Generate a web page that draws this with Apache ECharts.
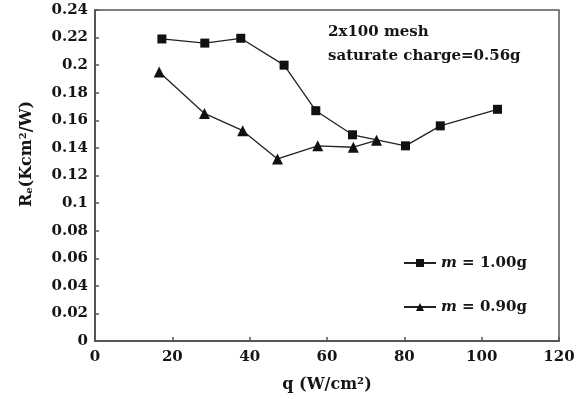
<!DOCTYPE html>
<html><head><meta charset="utf-8">
<script src="https://cdn.jsdelivr.net/npm/echarts@6/dist/echarts.min.js"></script>
<style>html,body{margin:0;padding:0;background:#fff}#c{width:582px;height:399px}</style>
</head><body><div id="c"></div>
<script>
const qSquare = [17.3, 28.4, 37.7, 48.9, 57.1, 66.6, 80.3, 89.3, 104.1];
const reSquare = [0.219, 0.216, 0.2195, 0.200, 0.167, 0.1495, 0.1415, 0.156, 0.168];
const qTri = [16.6, 28.3, 38.2, 47.2, 57.6, 66.8, 72.8];
const reTri = [0.195, 0.165, 0.1525, 0.132, 0.1415, 0.1405, 0.1455];
const seriesNames = ['m = 1.00g', 'm = 0.90g'];
const notes = ['2x100 mesh', 'saturate charge=0.56g'];

const font = 'DejaVu Serif';
const ink = '#151515';
const chart = echarts.init(document.getElementById('c'));
const pair = (xs, ys) => xs.map((x, i) => [x, ys[i]]);
chart.setOption({
  animation: false,
  backgroundColor: '#fff',
  grid: {left: 95, right: 23, top: 10, bottom: 58, show: true, borderColor: '#555', borderWidth: 1.5, backgroundColor: 'transparent'},
  xAxis: {
    type: 'value', min: 0, max: 120, interval: 20,
    name: 'q (W/cm²)', nameLocation: 'middle', nameGap: 36,
    nameTextStyle: {fontFamily: font, fontWeight: 'bold', fontSize: 16, color: ink},
    axisLine: {lineStyle: {color: '#555', width: 2}},
    axisTick: {inside: true, length: 4, lineStyle: {color: '#555', width: 1.5}},
    axisLabel: {fontFamily: font, fontWeight: 'bold', fontSize: 15, color: ink, margin: 9},
    splitLine: {show: false}
  },
  yAxis: {
    type: 'value', min: 0, max: 0.24, interval: 0.02,
    axisLine: {lineStyle: {color: '#555', width: 2}},
    axisTick: {inside: true, length: 4, lineStyle: {color: '#555', width: 1.5}},
    axisLabel: {fontFamily: font, fontWeight: 'bold', fontSize: 15, color: ink, margin: 7},
    splitLine: {show: false}
  },
  legend: {
    orient: 'vertical', left: 398, top: 249, itemGap: 26, itemWidth: 32, itemHeight: 10,
    data: seriesNames,
    formatter: n => '{i|m}' + n.slice(1),
    textStyle: {fontFamily: font, fontWeight: 'bold', fontSize: 15, lineHeight: 18, color: ink,
      rich: {i: {fontFamily: font, fontWeight: 'bold', fontStyle: 'italic', fontSize: 15, lineHeight: 18, color: ink}}}
  },
  graphic: [
    {type: 'text', left: 328, top: 25, style: {text: notes[0], font: 'bold 15px "DejaVu Serif"', fill: ink}},
    {type: 'text', left: 328, top: 49, style: {text: notes[1], font: 'bold 15px "DejaVu Serif"', fill: ink}},
    {type: 'text', x: 27, y: 154, rotation: Math.PI / 2,
      style: {text: 'R{s|e}(Kcm{p|2}/W)', align: 'center', verticalAlign: 'middle',
        font: 'bold 16px "DejaVu Serif"', fill: ink,
        rich: {s: {font: 'bold 10px "DejaVu Serif"', fill: ink, padding: [5, 0, 0, 0]},
               p: {font: 'bold 10px "DejaVu Serif"', fill: ink, padding: [0, 0, 8, 0]}}}}
  ],
  series: [
    {name: seriesNames[0], type: 'line', data: pair(qSquare, reSquare), symbol: 'rect', symbolSize: 9,
      lineStyle: {color: '#222', width: 1.3}, itemStyle: {color: '#111'}},
    {name: seriesNames[1], type: 'line', data: pair(qTri, reTri), symbol: 'triangle', symbolSize: 11,
      lineStyle: {color: '#222', width: 1.3}, itemStyle: {color: '#111'}}
  ]
});
</script></body></html>
